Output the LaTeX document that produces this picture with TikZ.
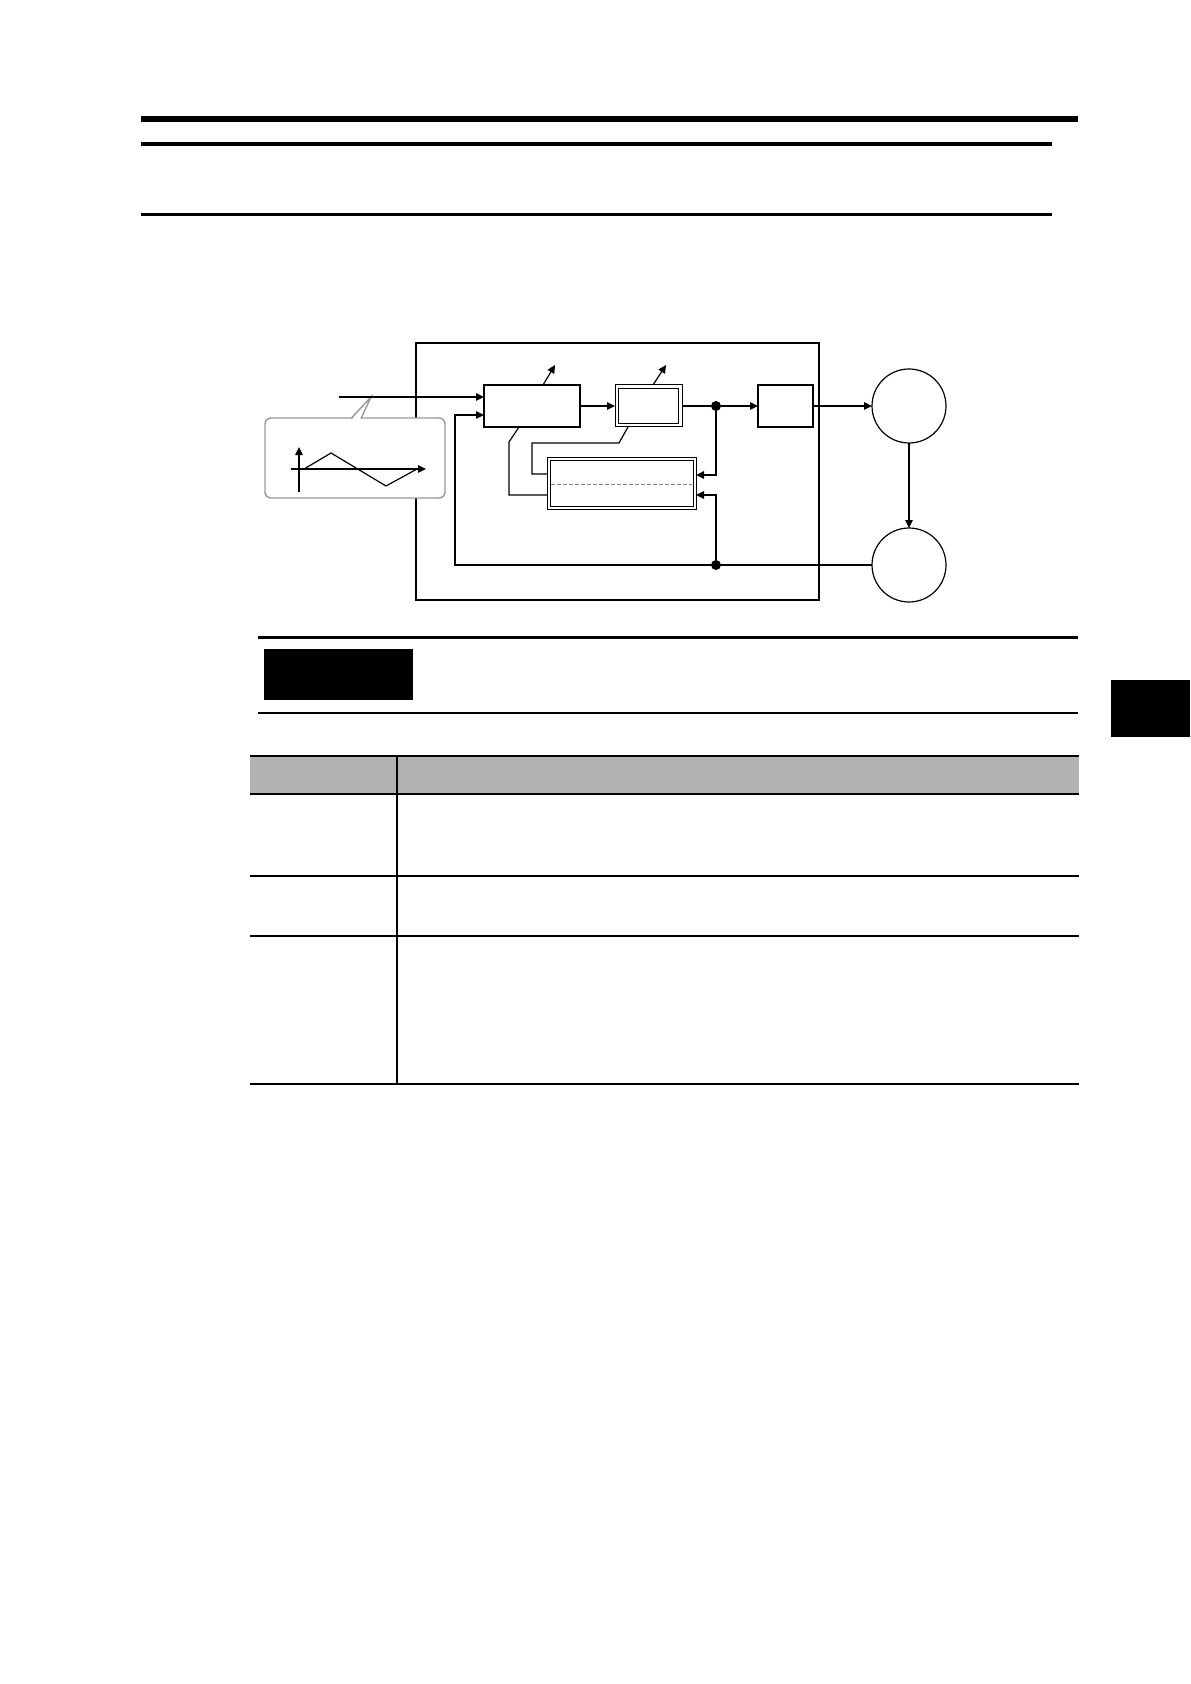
\documentclass[tikz,border=0pt]{standalone}
\usetikzlibrary{arrows.meta,calc}
\begin{document}
\begin{tikzpicture}[x=0.5pt,y=-0.5pt,
  ln/.style={line width=0.6pt,black},
  arr/.style={ln,-{Triangle[length=4pt,width=3.8pt]}},
  blk/.style={draw,ln,rectangle,inner sep=0pt,outer sep=0pt},
  inner/.style={line width=0.5pt,black},
  motor/.style={draw,ln,circle,inner sep=0pt,outer sep=0pt,minimum size=37pt},
  dot/.style={circle,fill=black,inner sep=0pt,minimum size=5pt},
  rule/.style={fill=black},
  tline/.style={line width=0.75pt,black}]
\useasboundingbox (0,0) rectangle (1190,1684);

% page header rules
\fill[rule] (141,116) rectangle (1078,122);
\fill[rule] (141,142) rectangle (1052,146);
\fill[rule] (141,213) rectangle (1052,216);

% frame
\node[blk,minimum width=201.5pt,minimum height=128.5pt] (frame) at (617.5,471.5) {};

% blocks
\node[blk,minimum width=48pt,minimum height=21pt] (b1) at (532,406) {};
\node[blk,line width=0.5pt,minimum width=33.5pt,minimum height=21pt] (b2) at (648.5,406) {};
\draw[inner] ($(b2.south west)+(3.5,-3.5)$) rectangle ($(b2.north east)+(-3.5,3.5)$);
\node[blk,minimum width=27.5pt,minimum height=21pt] (b3) at (785.5,406) {};
\node[blk,line width=0.5pt,minimum width=74.5pt,minimum height=26pt] (b4) at (621.5,483) {};
\draw[inner] ($(b4.south west)+(3,-3)$) rectangle ($(b4.north east)+(-3,3)$);
\draw[gray,line width=0.5pt,dash pattern=on 2pt off 1pt] ($(b4.west |- 0,484)+(4,0)$) -- ($(b4.east |- 0,484)+(-4,0)$);

\node[motor] (c1) at (909,406) {};
\node[motor] (c2) at (909,565) {};

\node[dot] (d1) at (716,406) {};
\node[dot] (d2) at (716,565) {};

% callout
\node[draw=gray!80,line width=0.7pt,fill=white,rounded corners=3pt,inner sep=0pt,
      minimum width=90pt,minimum height=40pt] (call) at (355,458) {};
\fill[white] (352,419.5) -- (371,397) -- (360,419.5) -- cycle;
\draw[gray!80,line width=0.7pt] (351,418.5) -- (371,397) -- (361,418.5);
\coordinate (in1) at (339,397);

% graph in callout
\draw[arr] (299,492) -- (299,447);
\draw[arr] (291,469) -- (426,469);
\draw[ln] (304,469) -- (331,453) -- (386,486) -- (417,469);

% connectors
\draw[arr] (in1) -- (in1 -| b1.west);
\draw[arr] (b1.east) -- (b2.west);
\draw[ln] (b2.east) -- (d1);
\draw[arr] (d1) -- (b3.west);
\draw[arr] (b3.east) -- (c1.west);
\draw[arr] (c1.south) -- (c2.north);
\draw[arr] (c2.west) -- (d2) -- (455,565) -- (455,415) -- (b1.west |- 0,415);
\draw[arr] (d1) -- (716,475) -- (b4.east |- 0,475);
\draw[arr] (d2) -- (716,495) -- (b4.east |- 0,495);
\draw[ln] (b1.south -| 519,0) -- (509,442) -- (509,495) -- (b4.west |- 0,495);
\draw[ln] (b2.south -| 628,0) -- (619,443) -- (532,443) -- (532,474) -- (b4.west |- 0,474);
\draw[arr] (b1.north -| 543,0) -- (555,365);
\draw[arr] (b2.north -| 653,0) -- (666,365);

% section heading
\fill[rule] (258,636) rectangle (1078,638.5);
\fill[rule] (258,711.5) rectangle (1078,714);
\fill[rule] (264,649) rectangle (413,700);

% table
\fill[black!30] (250,756) rectangle (1079,794);
\foreach \yy in {756,794,876,936,1084}{\draw[tline] (250,\yy) -- (1079,\yy);}
\draw[tline] (397,756) -- (397,1084);

% side tab
\fill[rule] (1111,680) rectangle (1190,737);
\end{tikzpicture}
\end{document}
